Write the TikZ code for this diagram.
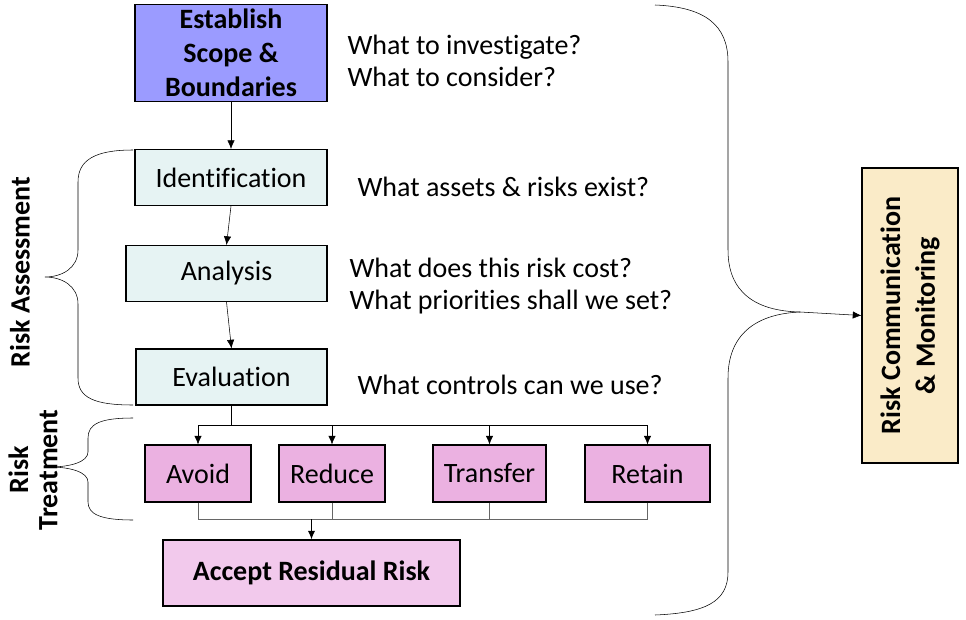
\documentclass[tikz,border=0pt]{standalone}
\usepackage{fontspec}
\setmainfont{Carlito}[RawFeature={-liga;-clig;-calt;-dlig}]
\usetikzlibrary{arrows.meta,calc}
\definecolor{scopeblue}{HTML}{9B9BFF}
\definecolor{stepcyan}{HTML}{E6F3F3}
\definecolor{optpink}{HTML}{EBB1E1}
\definecolor{acceptpink}{HTML}{F2C9EC}
\definecolor{commwheat}{HTML}{FAEBC8}

\begin{document}
\begin{tikzpicture}[x=0.75pt,y=-0.75pt, >={Latex[length=6.5pt,width=5.5pt]},
    every node/.style={draw,rectangle,align=center,line width=0.8pt,font=\fontsize{21}{25}\selectfont},
    stage/.style={fill=stepcyan,minimum height=42pt},
    option/.style={fill=optpink,minimum height=42.75pt},
    question/.style={draw=none,inner sep=0pt,anchor=west,align=left,font=\fontsize{21}{24}\selectfont},
    side/.style={draw=none,rotate=90,font=\fontsize{21}{22}\selectfont\bfseries}]
    \useasboundingbox (0,0) rectangle (966,620);
    \node[fill=scopeblue,minimum width=144pt,minimum height=72pt,font=\fontsize{21}{25.5}\selectfont\bfseries] (scope) at (231,53) {Establish\\Scope \&\\Boundaries};
    \node[stage,minimum width=144pt] (ident) at (231,177.5) {Identification};
    \node[stage,minimum width=150.75pt] (analysis) at (226.5,273.5) {Analysis};
    \node[stage,minimum width=143.25pt] (eval) at (231.5,377) {Evaluation};
    \node[option,minimum width=79.5pt] (avoid) at (198,473.5) {Avoid};
    \node[option,minimum width=79.5pt] (reduce) at (332,473.5) {Reduce};
    \node[option,minimum width=84.75pt] (transfer) at (489.5,473.5) {Transfer};
    \node[option,minimum width=93.75pt] (retain) at (647.5,473.5) {Retain};
    \node[fill=acceptpink,minimum width=222.75pt,minimum height=49.5pt,font=\fontsize{21}{25}\selectfont\bfseries] (accept) at (311.5,573) {Accept Residual Risk};
    \node[fill=commwheat,rotate=90,minimum width=221.25pt,minimum height=72pt,font=\fontsize{21}{26}\selectfont\bfseries] (comm) at (910,315.5) {Risk Communication\\\& Monitoring};
    % questions
    \node[question] (q1) at (347,61) {What to investigate?\\What to consider?};
    \node[question] (q2) at (357,187) {What assets \& risks exist?};
    \node[question] (q3) at (349,286) {What does this risk cost?\\What priorities shall we set?};
    \node[question] (q4) at (357,385) {What controls can we use?};
    % side labels
    \node[side] (assess) at (20,272) {Risk Assessment};
    \node[side] (treat) at (33,470) {Risk\\Treatment};
    % flow
    \draw[->] (scope.south) -- (ident.north);
    \draw[->] (ident.south) -- (analysis.north);
    \draw[->] (analysis.south) -- (eval.north);
    \draw[line width=1pt] (eval.south) -- ++(0,20) coordinate (bus);
    \draw[line width=1pt] (bus -| avoid) -- (bus -| retain);
    \foreach \n in {avoid,reduce,transfer,retain}
        \draw[->] (bus -| \n) -- (\n.north);
    \coordinate (join) at ($(accept.north)+(0,-20)$);
    \foreach \n in {avoid,reduce,transfer,retain}
        \draw[gray!80!black] (\n.south) -- (\n.south |- join);
    \draw[gray!80!black] (join -| avoid) -- (join -| retain);
    \draw[->,line width=1pt] (join) -- (accept.north);
    % braces
    \draw (133,150) .. controls (95,150) and (78,160) .. (78,182) -- (78,250) .. controls (78,268) and (62,277) .. (45,277)
        .. controls (62,277) and (78,286) .. (78,304) -- (78,378) .. controls (78,398) and (95,405) .. (133,405);
    \draw (133,418) .. controls (100,418) and (88,424) .. (88,438) -- (88,452) .. controls (88,462) and (70,467) .. (50,467)
        .. controls (70,467) and (88,472) .. (88,482) -- (88,502) .. controls (88,514) and (100,520) .. (133,520);
    \draw (655,5) .. controls (705,7) and (728,25) .. (728,62) -- (728,250) .. controls (728,292) and (755,311) .. (800,312) coordinate (bracetip);
    \draw (800,312) .. controls (755,314) and (728,335) .. (728,378) -- (728,572) .. controls (728,602) and (705,613) .. (655,615);
    \draw[->] (bracetip) -- (comm.north);
\end{tikzpicture}
\end{document}
